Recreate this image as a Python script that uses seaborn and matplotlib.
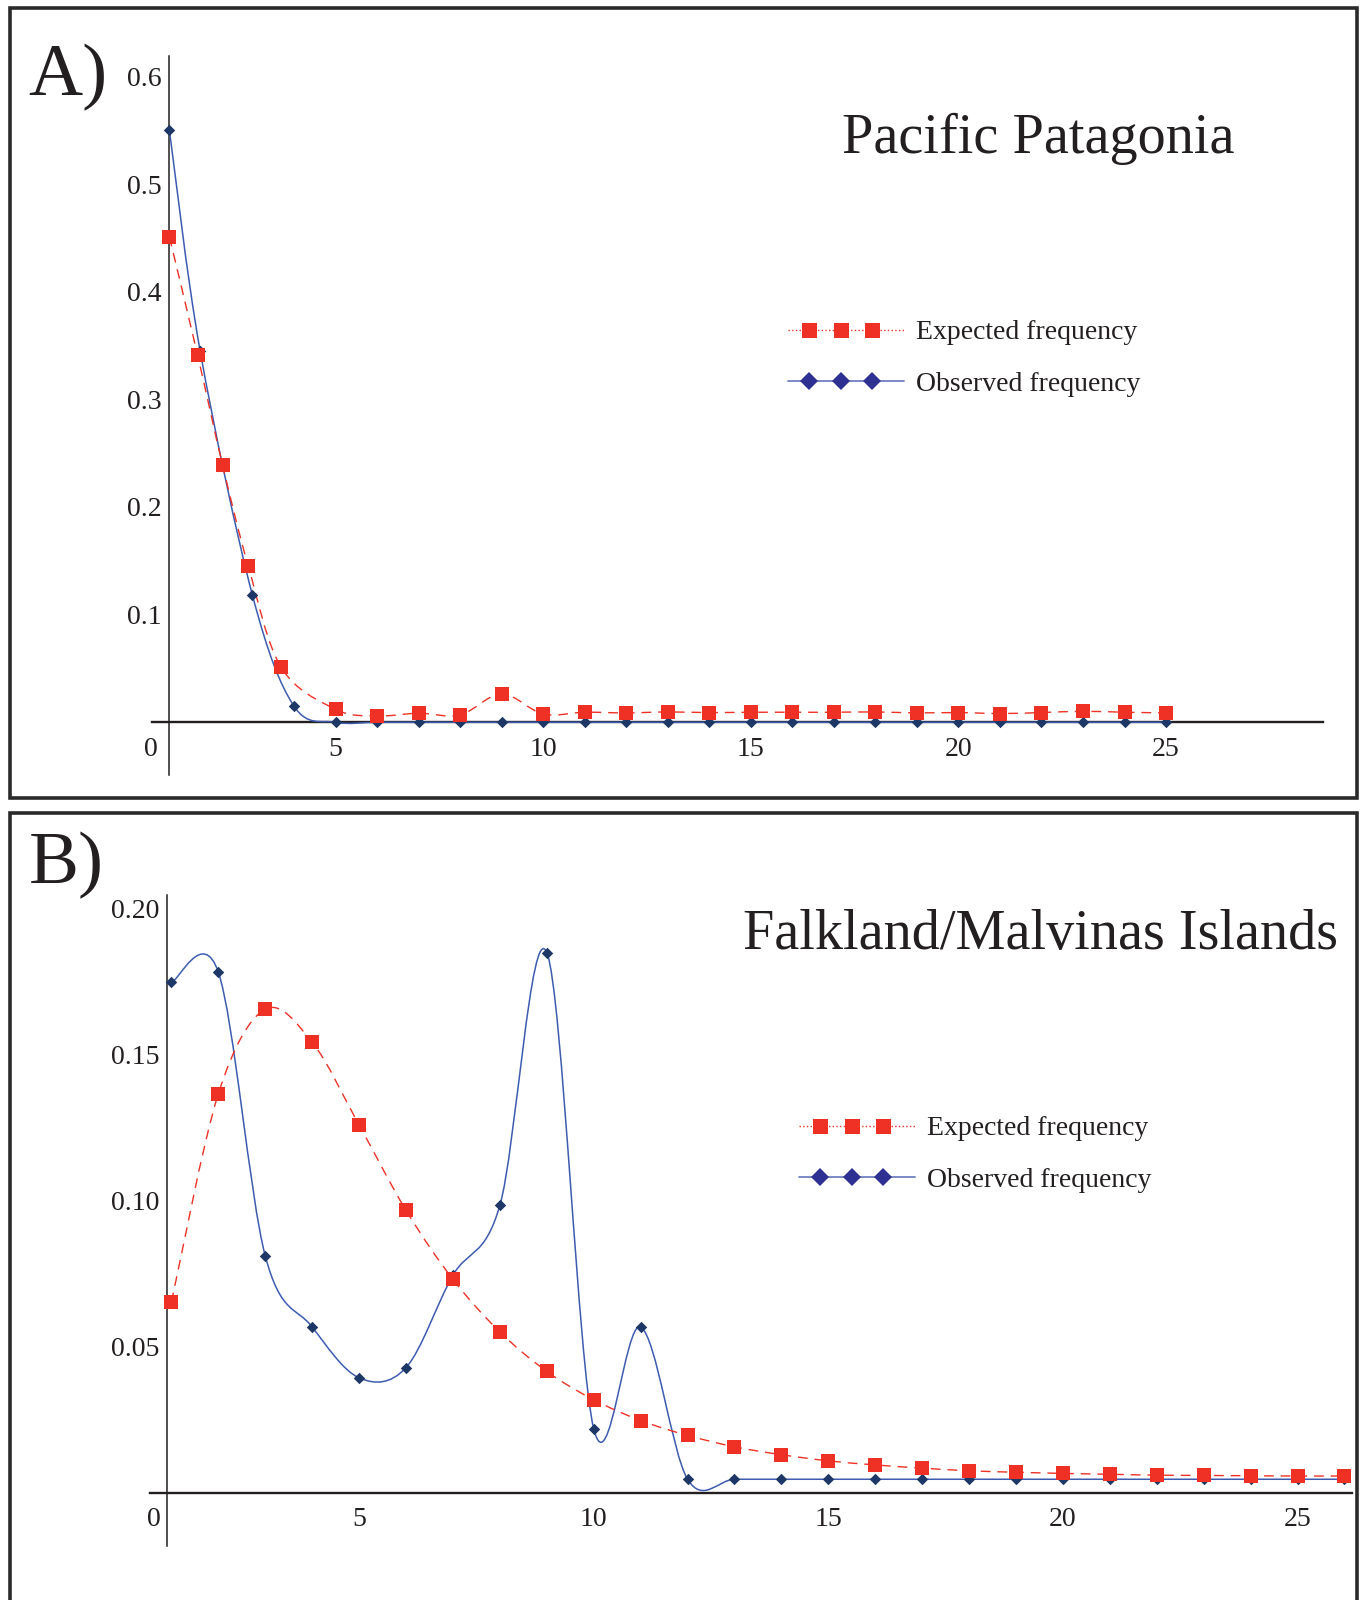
import numpy as np
import matplotlib
matplotlib.use('Agg')
import matplotlib.pyplot as plt
from matplotlib.path import Path
from matplotlib.patches import PathPatch, Rectangle
from matplotlib.lines import Line2D
from matplotlib.legend_handler import HandlerLine2DCompound
import seaborn as sns

# ---- data ----
# A) Pacific Patagonia
pat_exp_x = [1, 1.68, 2.28, 2.9, 3.69] + list(range(5, 26))
pat_exp_y = [0.451, 0.341, 0.239, 0.145, 0.051,
             0.0121, 0.0059, 0.0084, 0.0068, 0.0263, 0.0077, 0.0093,
             0.0087, 0.0096, 0.0090, 0.0093, 0.0093, 0.0093, 0.0096,
             0.0087, 0.0090, 0.0081, 0.0090, 0.0102, 0.0093, 0.0087]
pat_obs_x = [1, 1.74, 3, 4] + list(range(5, 26))
pat_obs_y = [0.55, 0.345, 0.118, 0.015] + [0.0] * 21

# B) Falkland/Malvinas Islands
fal_x = list(range(1, 27))
fal_exp_y = [0.0652, 0.1365, 0.1654, 0.1541, 0.1258, 0.0966, 0.0730, 0.0550,
             0.0415, 0.0318, 0.0247, 0.0196, 0.0157, 0.0130, 0.0109, 0.0095,
             0.0084, 0.0075, 0.0070, 0.0066, 0.0063, 0.0060, 0.0059, 0.0058,
             0.0057, 0.0057]
fal_obs_y = [0.1746, 0.1781, 0.0810, 0.0567, 0.0393, 0.0428, 0.0744, 0.0983,
             0.1848, 0.0219, 0.0567] + [0.0046] * 15

pat_yticks = [0.1, 0.2, 0.3, 0.4, 0.5, 0.6]
fal_yticks = [0.05, 0.10, 0.15, 0.20]
xticks = [5, 10, 15, 20, 25]

RED = '#ee3124'
NAVY = '#1d3766'
BLUE = '#3d5cb0'
INK = '#231f20'

sns.set_style('white')
plt.rcParams['font.family'] = ['Liberation Serif', 'DejaVu Serif']
plt.rcParams['text.color'] = INK


def smooth(x, y):
    # smoothed line through the points, like the spreadsheet "smooth line" option
    p = np.column_stack([x, y]).astype(float)
    n = len(p)
    verts, codes = [p[0]], [Path.MOVETO]
    for i in range(n - 1):
        p0, p1 = p[max(i - 1, 0)], p[i]
        p2, p3 = p[i + 1], p[min(i + 2, n - 1)]
        verts += [p1 + (p2 - p0) / 6, p2 - (p3 - p1) / 6, p2]
        codes += [Path.CURVE4] * 3
    return Path(verts, codes)


class ThreeMarkers(HandlerLine2DCompound):
    # line over the whole handle, three markers sitting a bit left of centre
    def get_xdata(self, legend, xdescent, ydescent, width, height, fontsize):
        x0 = -xdescent
        line_x = np.array([x0, x0 + width / 2, x0 + width])
        mark_x = np.linspace(x0 + 0.77 * fontsize, x0 + width - 1.14 * fontsize, 3)
        return line_x, mark_x


def panel(ax, ex, ey, ox, oy, spine_x, yticks, fmt, zero_dx):
    ax.add_patch(PathPatch(smooth(ox, oy), fill=False, color=BLUE, lw=1.1, zorder=3))
    ax.add_patch(PathPatch(smooth(ex, ey), fill=False, color=RED, lw=1.0,
                           linestyle=(0, (7, 5)), zorder=3))
    sns.scatterplot(x=ox, y=oy, marker='D', s=34, color=NAVY, linewidth=0, ax=ax, zorder=4)
    sns.scatterplot(x=ex, y=ey, marker='s', s=95, color=RED, linewidth=0, ax=ax, zorder=5)
    for s in ['top', 'right']:
        ax.spines[s].set_visible(False)
    ax.spines['left'].set_position(('data', spine_x))
    ax.spines['bottom'].set_position(('data', 0))
    ax.spines['left'].set_linewidth(1.1)
    ax.spines['bottom'].set_linewidth(1.7)
    for s in ['left', 'bottom']:
        ax.spines[s].set_color(INK)
        ax.spines[s].set_zorder(2)
    ax.set_xticks(xticks)
    ax.set_xticklabels([str(t) for t in xticks])
    ax.set_yticks(yticks)
    ax.set_yticklabels([fmt.format(t) for t in yticks])
    ax.tick_params(axis='both', length=0, labelsize=20, labelcolor=INK)
    ax.tick_params(axis='x', pad=10.5)
    ax.tick_params(axis='y', pad=5.5)
    ax.annotate('0', xy=(spine_x, 0), xytext=(zero_dx, -10.5), textcoords='offset points',
                ha='center', va='top', fontsize=20, color=INK)
    ax.set_xlabel('')
    ax.set_ylabel('')
    ax.patch.set_alpha(0)


def legend(ax, anchor):
    h_exp = Line2D([], [], color=RED, lw=1.0, linestyle=':', marker='s',
                   markersize=10.8, markerfacecolor=RED, markeredgewidth=0)
    h_obs = Line2D([], [], color='#6f7fc2', lw=1.3, linestyle='-', marker='D',
                   markersize=9.4, markerfacecolor='#2e3192', markeredgewidth=0)
    ax.legend([h_exp, h_obs], ['Expected frequency', 'Observed frequency'],
              loc='upper left', bbox_to_anchor=anchor, bbox_transform=ax.figure.transFigure,
              frameon=False, fontsize=20, handlelength=4.17, handletextpad=0.43,
              labelspacing=0.93, borderpad=0, borderaxespad=0,
              handler_map={Line2D: ThreeMarkers(numpoints=3)})


W, H = 1361, 1600
fig = plt.figure(figsize=(W / 100, H / 100), dpi=100)

# panel frames
for (x0, y0, x1, y1) in [(10.2, 8.2, 1356.9, 797.8), (10.2, 813, 1356.9, 1610)]:
    fig.add_artist(Rectangle((x0 / W, 1 - y1 / H), (x1 - x0) / W, (y1 - y0) / H,
                             transform=fig.transFigure, fill=False, lw=2.6,
                             edgecolor='#2a2a2a', zorder=0))

axA = fig.add_axes([152 / W, 1 - 775 / H, (1323 - 152) / W, (775 - 56) / H])
panel(axA, pat_exp_x, pat_exp_y, pat_obs_x, pat_obs_y, 1.0, pat_yticks, '{:.1f}', -13)
axA.set_xlim(0.581, 28.78)
axA.set_ylim(-0.049, 0.619)
legend(axA, (788 / W, 1 - 320 / H))

axB = fig.add_axes([149.5 / W, 1 - 1545.6 / H, (1352 - 149.5) / W, (1545.6 - 894.7) / H])
panel(axB, fal_x, fal_exp_y, fal_x, fal_obs_y, 0.913, fal_yticks, '{:.2f}', -10)
axB.set_xlim(0.533, 26.16)
axB.set_ylim(-0.0181, 0.2046)
legend(axB, (799 / W, 1 - 1116 / H))

fig.text(1038.6 / W, 1 - 139 / H, 'Pacific Patagonia', fontsize=40.5,
         ha='center', va='center')
fig.text(1040.6 / W, 1 - 935.5 / H, 'Falkland/Malvinas Islands', fontsize=40.5,
         ha='center', va='center')
fig.text(28.6 / W, 1 - 95 / H, 'A)', fontsize=54, ha='left', va='baseline')
fig.text(28.6 / W, 1 - 883 / H, 'B)', fontsize=54, ha='left', va='baseline')

fig.savefig('out.png', dpi=100)
